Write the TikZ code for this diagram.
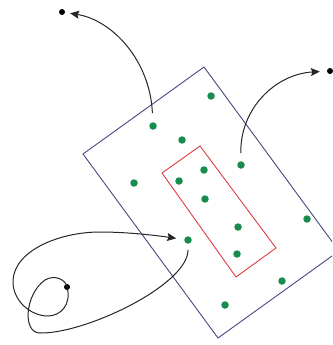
\documentclass[tikz,border=0pt]{standalone}
\usetikzlibrary{arrows.meta}
\definecolor{dotgreen}{RGB}{24,140,78}
\definecolor{rectblue}{RGB}{70,72,130}
\definecolor{rectred}{RGB}{222,60,64}
\tikzset{
  gdot/.style={circle,fill=dotgreen,inner sep=0pt,minimum size=7.5pt},
  bdot/.style={circle,fill=black,inner sep=0pt,minimum size=6pt},
  traj/.style={draw=black!85,line width=1pt},
  tip/.style={-{Stealth[length=9pt,width=8pt,inset=1.5pt]}},
}
\begin{document}
\begin{tikzpicture}[x=1pt,y=-1pt]
\useasboundingbox (0,0) rectangle (332,345);
\begin{scope}
\clip (0,0) rectangle (332,345);
% blue region
\draw[rectblue,line width=0.9pt] (204,67) -- (339,251) -- (218,338) -- (83,154) -- cycle;
\end{scope}
% red region
\draw[rectred,line width=0.9pt] (200,146) -- (276,248) -- (236,277) -- (162,173) -- cycle;
% green dots
\node[gdot] (g1) at (211,96) {};
\node[gdot] (g2) at (153,126) {};
\node[gdot] (g3) at (182,140) {};
\node[gdot] (g4) at (241,165) {};
\node[gdot] (g5) at (134,183) {};
\node[gdot] (g6) at (179,181) {};
\node[gdot] (g7) at (204,170) {};
\node[gdot] (g8) at (205,199) {};
\node[gdot] (g9) at (238,227) {};
\node[gdot] (g10) at (307,219) {};
\node[gdot] (g11) at (188,240) {};
\node[gdot] (g12) at (237,254) {};
\node[gdot] (g13) at (282,281) {};
\node[gdot] (g14) at (225,305) {};
% black dots
\node[bdot] (b1) at (62,12) {};
\node[bdot] (b2) at (330,71) {};
\node[bdot] (b3) at (67,287) {};
% trajectories
\draw[traj,tip,shorten <=9pt,shorten >=5pt] (g2) .. controls (150,60) and (112,20) .. (b1);
\draw[traj,tip,shorten <=8pt,shorten >=7pt] (g4) .. controls (240,108) and (276,74) .. (b2);
\draw[traj,shorten <=6pt] (g11) .. controls (188,285) and (85,334) .. (40,333)
   .. controls (22,333) and (25,294) .. (45,280)
   .. controls (55,274) and (66,280) .. (b3.center);
\draw[traj,tip,shorten >=8pt] (b3.center) .. controls (72,305) and (60,316) .. (48,316)
   .. controls (30,316) and (12,300) .. (13,280)
   .. controls (15,250) and (60,232) .. (100,232)
   .. controls (130,232) and (160,236) .. (g11);
\end{tikzpicture}
\end{document}
